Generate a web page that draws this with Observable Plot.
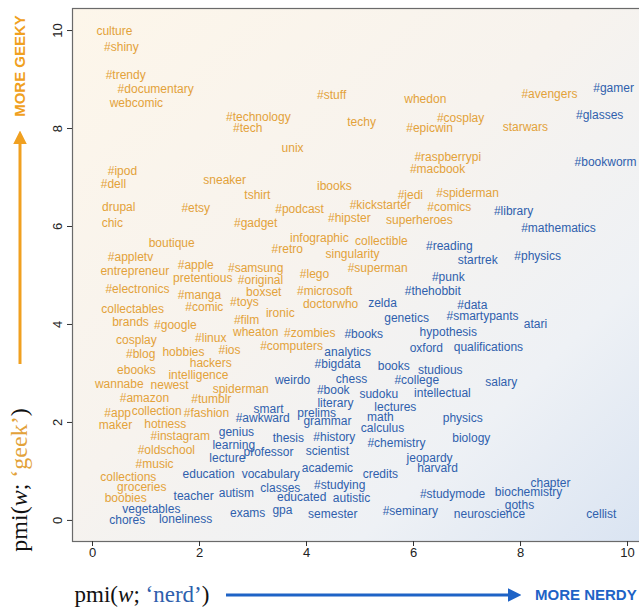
<!DOCTYPE html>
<html><head><meta charset="utf-8">
<script src="https://cdn.jsdelivr.net/npm/d3@7"></script>
<script src="https://cdn.jsdelivr.net/npm/@observablehq/plot@0.6"></script>
<style>body{margin:0;background:#fff;overflow:hidden}</style>
</head><body><div id="chart"></div>
<script>
const geekWords = ["culture","#shiny","#trendy","#documentary","webcomic","#technology","#tech","#stuff","techy","whedon","#cosplay","#epicwin","#avengers","starwars","unix","#raspberrypi","#macbook","#ipod","#dell","sneaker","ibooks","tshirt","#jedi","#spiderman","drupal","#etsy","#podcast","#kickstarter","#comics","#hipster","superheroes","chic","#gadget","boutique","infographic","collectible","#retro","singularity","#appletv","#apple","#samsung","#superman","entrepreneur","pretentious","#original","#lego","#electronics","#manga","boxset","#microsoft","#toys","#comic","ironic","doctorwho","collectables","brands","#google","#film","cosplay","#linux","wheaton","#zombies","#computers","#blog","hobbies","#ios","hackers","ebooks","intelligence","wannabe","newest","spiderman","#amazon","#tumblr","#app","collection","#fashion","maker","hotness","#instagram","#oldschool","#music","collections","groceries","boobies"];
const geekX = [0.41,0.54,0.62,1.18,0.82,3.10,2.90,4.47,5.03,6.22,6.88,6.30,8.54,8.09,3.74,6.64,6.45,0.56,0.39,2.47,4.52,3.08,5.94,7.01,0.49,1.93,3.87,5.38,6.67,4.80,6.11,0.37,3.05,1.48,4.24,5.40,3.64,4.86,0.71,1.93,3.05,5.33,0.79,2.06,3.14,4.15,0.84,2.00,3.20,4.34,2.84,2.09,3.51,4.45,0.75,0.71,1.55,2.88,0.82,2.21,3.05,4.06,3.72,0.90,1.70,2.56,2.21,0.82,1.98,0.50,1.44,2.77,0.97,2.22,0.47,1.20,2.13,0.43,1.36,1.64,1.38,1.16,0.67,0.92,0.62];
const geekY = [9.98,9.67,9.08,8.80,8.51,8.24,8.00,8.69,8.12,8.59,8.22,8.00,8.71,8.02,7.59,7.41,7.18,7.12,6.86,6.94,6.82,6.63,6.65,6.69,6.39,6.37,6.35,6.43,6.39,6.18,6.12,6.06,6.06,5.67,5.76,5.71,5.53,5.43,5.37,5.22,5.14,5.14,5.08,4.94,4.90,5.02,4.73,4.59,4.65,4.69,4.45,4.35,4.24,4.41,4.31,4.04,3.98,4.08,3.67,3.73,3.84,3.82,3.55,3.39,3.43,3.47,3.22,3.06,2.96,2.78,2.76,2.67,2.49,2.47,2.20,2.24,2.20,1.94,1.96,1.73,1.43,1.14,0.88,0.67,0.45];

const nerdWords = ["#gamer","#glasses","#bookworm","#library","#mathematics","#reading","startrek","#physics","#punk","#thehobbit","zelda","#data","#smartypants","genetics","atari","#books","hypothesis","analytics","oxford","qualifications","#bigdata","books","studious","weirdo","chess","#college","salary","#book","sudoku","intellectual","literary","smart","lectures","#awkward","prelims","grammar","math","physics","genius","calculus","thesis","#history","biology","learning","#chemistry","scientist","professor","lecture","jeopardy","harvard","education","vocabulary","academic","credits","chapter","#studying","classes","autism","teacher","educated","autistic","#studymode","biochemistry","goths","vegetables","exams","gpa","semester","#seminary","neuroscience","cellist","chores","loneliness"];
const nerdX = [9.74,9.48,9.59,7.87,8.71,6.67,7.20,8.32,6.65,6.36,5.42,7.10,7.29,5.87,8.28,5.07,6.65,4.77,6.24,7.40,4.58,5.63,6.50,3.74,4.84,6.06,7.64,4.50,5.35,6.54,4.54,3.29,5.66,3.18,4.19,4.39,5.38,6.92,2.69,5.42,3.66,4.52,7.08,2.64,5.68,4.39,3.29,2.52,6.30,6.45,2.17,3.33,4.39,5.38,8.56,4.62,3.51,2.69,1.89,3.91,4.84,6.73,8.15,7.98,1.10,2.90,3.55,4.49,5.94,7.42,9.51,0.65,1.74];
const nerdY = [8.82,8.27,7.31,6.31,5.96,5.59,5.31,5.39,4.96,4.69,4.43,4.39,4.16,4.12,4.00,3.80,3.84,3.43,3.51,3.53,3.18,3.14,3.06,2.86,2.88,2.86,2.82,2.65,2.57,2.59,2.39,2.27,2.31,2.08,2.18,2.02,2.10,2.08,1.80,1.88,1.67,1.71,1.67,1.53,1.57,1.41,1.39,1.27,1.27,1.06,0.94,0.94,1.06,0.94,0.76,0.71,0.65,0.55,0.49,0.47,0.45,0.53,0.57,0.31,0.24,0.14,0.20,0.12,0.18,0.12,0.12,0.00,0.02];

const xTicks = [0,2,4,6,8,10];
const yTicks = [0,2,4,6,8,10];

const ORANGE = "#E3A23A";
const BLUE = "#2F5FAD";

const geek = geekWords.map((w,i)=>({w, x:geekX[i], y:geekY[i]}));
const nerd = nerdWords.map((w,i)=>({w, x:nerdX[i], y:nerdY[i]}));

const chart = Plot.plot({
  width: 639, height: 607,
  marginLeft: 72, marginRight: -3, marginTop: 8, marginBottom: 66,
  style: {fontFamily: "Liberation Sans, Arial, sans-serif", background: "#fff", overflow: "visible"},
  x: {domain: [-0.374, 10.28]},
  y: {domain: [-0.43, 10.45]},
  marks: [
    Plot.frame({fill: "url(#bgGrad)", stroke: "#6a6a6a", strokeWidth: 1.2}),
    Plot.axisX(xTicks, {tickSize: 5, tickPadding: 1, fontSize: 13, label: null, stroke: "#333", fill: "#222"}),
    Plot.axisY(yTicks, {tickSize: 5, tickRotate: -90, tickPadding: 6, fontSize: 13, label: null, stroke: "#333", fill: "#222"}),
    Plot.text(geek, {x: "x", y: "y", text: "w", fill: ORANGE, fontSize: 12}),
    Plot.text(nerd, {x: "x", y: "y", text: "w", fill: BLUE, fontSize: 12})
  ]
});
document.getElementById("chart").appendChild(chart);

const svg = d3.select(chart);
svg.insert("defs", ":first-child").html(`
  <linearGradient id="bgGrad" x1="0" y1="0" x2="1" y2="1">
    <stop offset="0" stop-color="#FDF6EA"/>
    <stop offset="0.45" stop-color="#F7F3EE"/>
    <stop offset="0.75" stop-color="#EEF1F5"/>
    <stop offset="1" stop-color="#DAE4F2"/>
  </linearGradient>
  <marker id="headO" viewBox="0 0 10 10" refX="3" refY="5" markerWidth="4.5" markerHeight="4.5" orient="auto">
    <path d="M0,0 L10,5 L0,10 z" fill="#F0A020"/>
  </marker>
  <marker id="headB" viewBox="0 0 10 10" refX="3" refY="5" markerWidth="4.5" markerHeight="4.5" orient="auto">
    <path d="M0,0 L10,5 L0,10 z" fill="#1E63C6"/>
  </marker>`);

const ann = svg.append("g");
// y label
const yl = ann.append("text")
  .attr("transform", "translate(27,480) rotate(-90)")
  .attr("text-anchor", "middle")
  .style("font-family", "Liberation Serif, Times New Roman, serif")
  .style("font-size", "24px").attr("fill", "#111");
yl.append("tspan").text("pmi(");
yl.append("tspan").style("font-style", "italic").text("w");
yl.append("tspan").text("; ");
yl.append("tspan").attr("fill", ORANGE).text("‘geek’");
yl.append("tspan").text(")");
// x label
const xl = ann.append("text")
  .attr("x", 142).attr("y", 602)
  .attr("text-anchor", "middle")
  .style("font-family", "Liberation Serif, Times New Roman, serif")
  .style("font-size", "23px").attr("fill", "#111");
xl.append("tspan").text("pmi(");
xl.append("tspan").style("font-style", "italic").text("w");
xl.append("tspan").text("; ");
xl.append("tspan").attr("fill", BLUE).text("‘nerd’");
xl.append("tspan").text(")");
// arrows
ann.append("line").attr("x1", 20).attr("y1", 364).attr("x2", 20).attr("y2", 140)
  .attr("stroke", "#F0A020").attr("stroke-width", 3).attr("marker-end", "url(#headO)");
ann.append("line").attr("x1", 226).attr("y1", 595).attr("x2", 512).attr("y2", 595)
  .attr("stroke", "#1E63C6").attr("stroke-width", 3).attr("marker-end", "url(#headB)");
ann.append("text").attr("transform", "translate(25,66) rotate(-90)")
  .attr("text-anchor", "middle").attr("fill", "#F0A020")
  .style("font-family", "Liberation Sans, Arial, sans-serif").style("font-weight", "bold").style("font-size", "15px")
  .text("MORE GEEKY");
ann.append("text").attr("x", 535).attr("y", 600)
  .attr("text-anchor", "start")
  .attr("fill", "#1E63C6")
  .style("font-family", "Liberation Sans, Arial, sans-serif").style("font-weight", "bold").style("font-size", "15px")
  .text("MORE NERDY");
</script>
</body></html>
